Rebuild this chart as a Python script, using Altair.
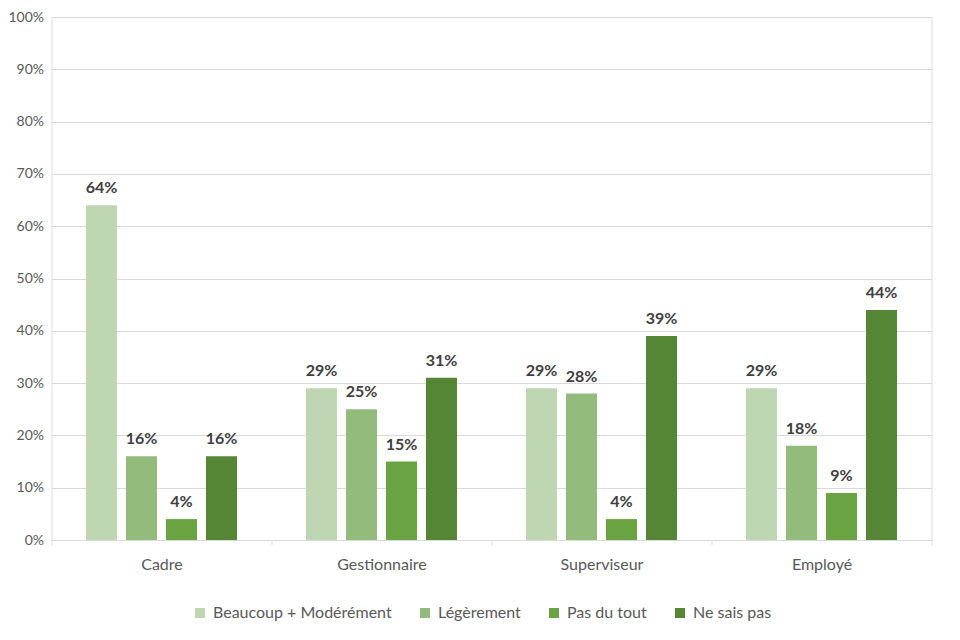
import altair as alt
import pandas as pd

categories = ["Cadre", "Gestionnaire", "Superviseur", "Employé"]
series = ["Beaucoup + Modérément", "Légèrement", "Pas du tout", "Ne sais pas"]
values = {
    "Beaucoup + Modérément": [64, 29, 29, 29],
    "Légèrement": [16, 25, 28, 18],
    "Pas du tout": [4, 15, 4, 9],
    "Ne sais pas": [16, 31, 39, 44],
}
colors = ["#BFD6B3", "#93BC7C", "#6AA342", "#558636"]

rows = []
for s in series:
    for c, v in zip(categories, values[s]):
        rows.append({"cat": c, "serie": s, "val": v / 100.0, "lbl": f"{v}%"})
df = pd.DataFrame(rows)

font = "Lato"

base = alt.Chart(df).encode(
    x=alt.X("cat:N", sort=categories, title=None,
            scale=alt.Scale(paddingInner=0, paddingOuter=0),
            axis=alt.Axis(labelAngle=0, labelFont=font, labelFontSize=16,
                          labelColor="#595959", labelPadding=11,
                          domainColor="#D9D9D9", tickColor="#D9D9D9",
                          tickSize=5, tickBand="extent", grid=False)),
    xOffset=alt.XOffset("serie:N", sort=series,
                        scale=alt.Scale(paddingInner=0.225, paddingOuter=0.8625)),
    y=alt.Y("val:Q", title=None,
            scale=alt.Scale(domain=[0, 1], nice=False),
            axis=alt.Axis(format=".0%", values=[i / 10 for i in range(11)],
                          labelFont=font, labelFontSize=14, labelColor="#595959",
                          labelPadding=8, domain=False, ticks=False,
                          gridColor="#D9D9D9", gridWidth=1)),
)

bars = base.mark_bar().encode(
    color=alt.Color("serie:N", sort=series, title=None,
                    scale=alt.Scale(domain=series, range=colors),
                    legend=alt.Legend(orient="none", direction="horizontal",
                                      legendX=140.5, legendY=588,
                                      symbolType="square", symbolSize=100,
                                      symbolStrokeWidth=0, labelOffset=5,
                                      labelFont=font, labelFontSize=16,
                                      labelColor="#595959", columnPadding=25,
                                      labelLimit=300))
)

labels = base.mark_text(baseline="bottom", dy=-9, font=font, fontSize=16,
                        fontWeight="bold", color="#404040").encode(text="lbl:N")

chart = (bars + labels).properties(
    width=880, height=523,
    autosize=alt.AutoSizeParams(type="none"),
    padding={"left": 43.5, "top": 9, "right": 20, "bottom": 92},
).configure_view(stroke=None).configure(background="white")

chart.save("out.html", embed_options={"renderer": "svg", "actions": False})
